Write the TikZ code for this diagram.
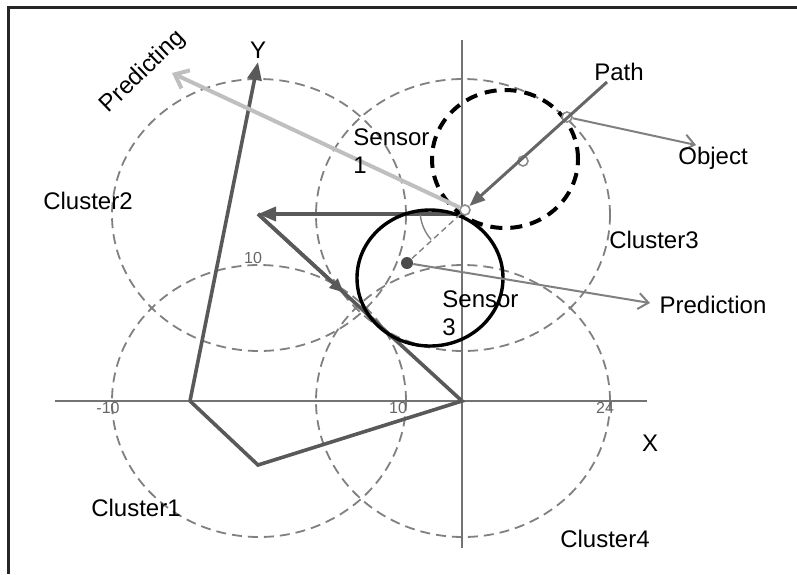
\documentclass[tikz,border=0pt]{standalone}
\usepackage{fontspec}
\setmainfont{Liberation Sans}
\usepackage{tikz}
\usetikzlibrary{arrows.meta,positioning,calc,shapes.geometric}

\begin{document}
\begin{tikzpicture}[
    x=0.5pt, y=-0.5pt,
    font=\fontsize{12}{14}\selectfont,
    lbl/.style={inner sep=0pt, align=left},
    tick/.style={inner sep=0pt, font=\fontsize{8}{9}\selectfont, text=black!60},
    cluster/.style={draw=black!50, ellipse, line width=0.9pt, dash pattern=on 5pt off 3pt,
                    minimum width=147pt, minimum height=136pt, inner sep=0pt},
    sensor/.style={draw=black, ellipse, minimum width=73pt, minimum height=68pt, inner sep=0pt},
    axis/.style={draw=black!55, line width=0.9pt},
    traj/.style={draw=black!65, line width=1.8pt},
    tip/.style={-{Triangle[length=9pt, width=7pt]}},
    thinarr/.style={draw=black!50, line width=1pt, -{Straight Barb[length=5pt, width=8pt]}},
    hole/.style={circle, draw=black!45, line width=0.8pt, fill=white, inner sep=0pt, minimum size=5pt}
]
\useasboundingbox (0,0) rectangle (797,574);
\draw[line width=1.5pt, black!85] (797,7) -- (8,7) -- (8,574);

\node[cluster] (c1) at (259,401) {};
\node[cluster] (c2) at (259,215) {};
\node[cluster] (c3) at (463,215) {};
\node[cluster] (c4) at (463,401) {};

\coordinate (o) at (462,401);
\coordinate (xl) at (55,401);
\coordinate (xr) at (647,401);
\coordinate (yt) at (462,40);
\coordinate (yb) at (462,548);
\draw[axis] (xl) -- (xr);
\draw[axis] (yt) -- (yb);

\coordinate (p0) at (190,401);
\coordinate (p1) at (258,465);
\coordinate (p2) at (258,214);
\coordinate (p3) at (462,214);
\coordinate (ytip) at (258,62);
\draw[traj, tip] (p0) -- (ytip);
\draw[traj] (p0) -- (p1) -- (o) -- (p2);
\draw[traj, tip] (p3) -- (p2);
\draw[traj, -{Triangle[length=7pt, width=6pt]}] (p2) -- ($(p2)!0.42!(o)$);

\node[sensor, line width=1.7pt] (s3) at (430,278) {};
\node[sensor, line width=2pt, dash pattern=on 6pt off 4pt, minimum height=69pt] (s1) at (505,159) {};

\node[hole] (h1) at (465,210) {};
\node[hole] (h2) at (523,161) {};
\node[hole] (h3) at (567,117) {};
\node[circle, fill=black!70, minimum size=6pt, inner sep=0pt] (dot) at (407,263) {};

\coordinate (pathend) at (607,82);
\coordinate (pred) at (172,73);
\coordinate (objtip) at (696,145);
\coordinate (predtip) at (650,303);

\draw[black!50, line width=0.7pt, dash pattern=on 3pt off 2pt] (h1) -- (dot);
\draw[black!50, line width=0.7pt] ([shift={(186:22.5pt)}]h1.center) arc[start angle=186, end angle=221, radius=22.5pt];
\draw[draw=black!60, line width=1.5pt, -{Triangle[length=8pt, width=6pt]}] (pathend) -- (h1);
\draw[draw=black!25, line width=2pt, -{Straight Barb[length=6pt, width=10pt]}] (h1) -- (pred);
\draw[thinarr] (h3) -- (objtip);
\draw[thinarr] (dot) -- (predtip);

\node[rotate=44] (predicting) at (143,72) {Predicting};
\node (ylbl) at (258,50) {Y};
\node[lbl, anchor=west] (sensor1) at (353,151) {Sensor\\1};
\node (path) at (619,72) {Path};
\node (object) at (713,158) {Object};
\node (cl2) at (88,201) {Cluster2};
\node (cl3) at (654,240) {Cluster3};
\node[lbl, anchor=west] (sensor3) at (442,313) {Sensor\\3};
\node (prediction) at (713,305) {Prediction};
\node (xlbl) at (650,443) {X};
\node (cl1) at (136,508) {Cluster1};
\node (cl4) at (605,539) {Cluster4};
\node[tick] (t10a) at (253,258) {10};
\node[tick] (tm10) at (108,408) {-10};
\node[tick] (t10b) at (398,408) {10};
\node[tick] (t24) at (605,408) {24};
\end{tikzpicture}
\end{document}
